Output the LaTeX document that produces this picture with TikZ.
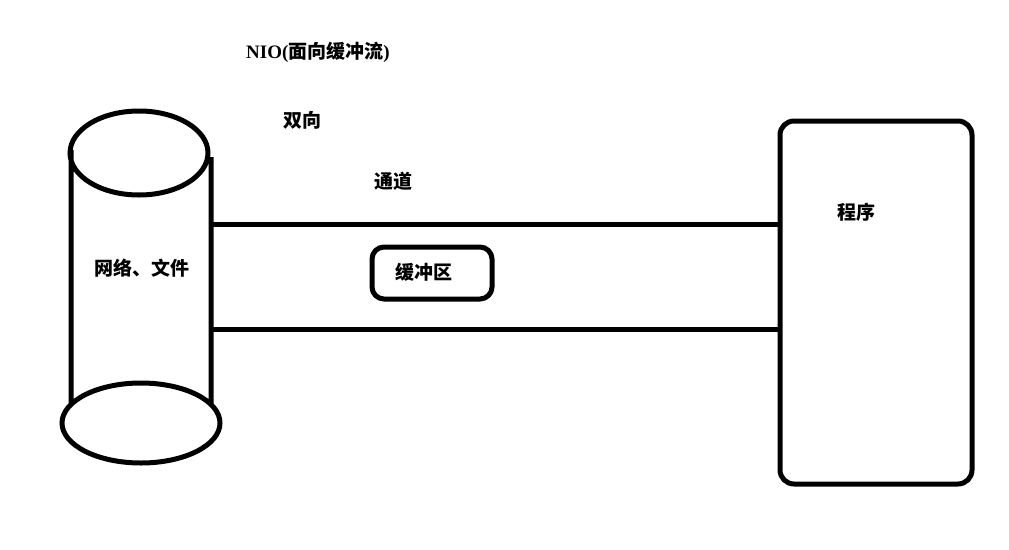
\documentclass[tikz,border=0pt]{standalone}
\usepackage{fontspec}
\setmainfont{Liberation Serif}
\newfontfamily\cjk{Noto Sans CJK SC}
\usepackage{tikz}
\usetikzlibrary{positioning}

\tikzset{
  thick line/.style={line width=5pt},
  label text/.style={font=\fontsize{19}{22}\selectfont\cjk\bfseries, inner sep=0pt},
  round box/.style={thick line, draw, rounded corners=14pt, inner sep=0pt}
}

\begin{document}
\begin{tikzpicture}[x=1pt,y=-1pt]
\useasboundingbox (0,0) rectangle (1009,549);
% cylinder
\draw[thick line]
(139,153) ellipse [x radius=69, y radius=42]
(141,423) ellipse [x radius=79, y radius=40]
(71,150) -- (71,405)
(211,157) -- (211,405);
\coordinate (cylT) at (211,224);
\coordinate (cylB) at (211,329);
\node[label text] (net) at (142,268) {网络、文件};
% program
\node[round box, minimum width=192pt, minimum height=363pt] (prog) at (876,302.5) {};
\node[label text] (progtxt) at (856,212) {程序};
% channel
\draw[thick line] (cylT) -- (prog.west |- cylT);
\draw[thick line] (cylB) -- (prog.west |- cylB);
\node[round box, rounded corners=12pt, minimum width=120pt, minimum height=52pt] (buf) at (432,273) {};
\node[label text] (buftxt) at (424,272) {缓冲区};
% labels
\node[label text] (nio) at (318,52) {{\rmfamily\bfseries NIO(}面向缓冲流{\rmfamily\bfseries )}};
\node[label text] (dir) at (302,120) {双向};
\node[label text] (chan) at (393,181) {通道};
\end{tikzpicture}
\end{document}
